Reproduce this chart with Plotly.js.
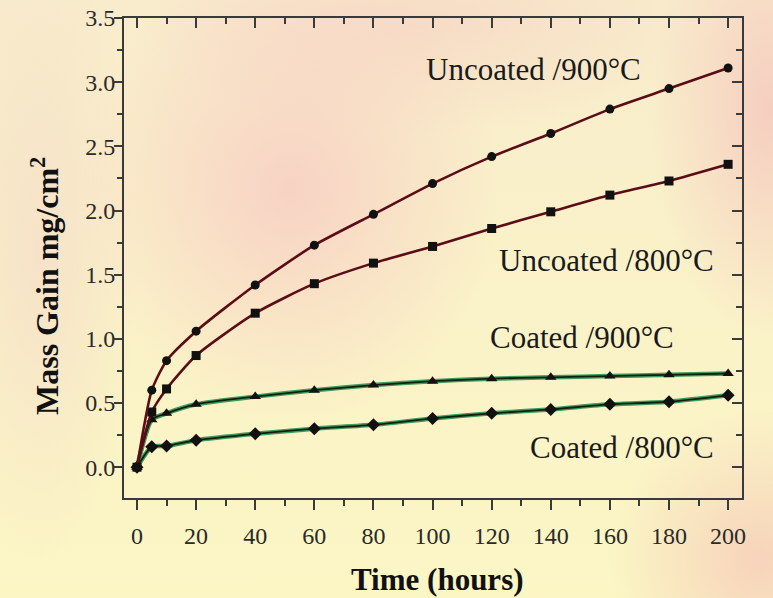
<!DOCTYPE html>
<html>
<head>
<meta charset="utf-8">
<script src="https://cdn.plot.ly/plotly-3.0.1.min.js"></script>
<style>
  html, body { margin: 0; padding: 0; }
  body {
    width: 773px; height: 598px; overflow: hidden;
    background:
      radial-gradient(ellipse 210px 230px at 290px 190px, rgba(247,203,195,0.8), rgba(247,203,195,0) 100%),
      radial-gradient(ellipse 120px 230px at 770px 110px, rgba(245,200,190,0.85), rgba(245,200,190,0) 100%),
      radial-gradient(ellipse 150px 150px at 760px 560px, rgba(246,205,185,0.85), rgba(246,205,185,0) 100%),
      radial-gradient(ellipse 280px 110px at 420px 25px, rgba(246,212,195,0.7), rgba(246,212,195,0) 100%),
      radial-gradient(ellipse 100px 320px at 40px 250px, rgba(245,222,200,0.8), rgba(245,222,200,0) 100%),
      linear-gradient(180deg, #f8eccc 0%, #faf2c8 50%, #fbf6c4 100%);
  }
  #chart { width: 773px; height: 598px; }
</style>
</head>
<body>
<div id="chart"></div>
<script>
// ---- data ----
var timeHours = [0, 5, 10, 20, 40, 60, 80, 100, 120, 140, 160, 180, 200];
var uncoated900 = [0.00, 0.60, 0.83, 1.06, 1.42, 1.73, 1.97, 2.21, 2.42, 2.60, 2.79, 2.95, 3.11];
var uncoated800 = [0.00, 0.43, 0.61, 0.87, 1.20, 1.43, 1.59, 1.72, 1.86, 1.99, 2.12, 2.23, 2.36];
var coated900   = [0.00, 0.37, 0.42, 0.49, 0.55, 0.60, 0.64, 0.67, 0.69, 0.70, 0.71, 0.72, 0.73];
var coated800   = [0.00, 0.16, 0.165, 0.21, 0.26, 0.30, 0.33, 0.38, 0.42, 0.45, 0.49, 0.51, 0.56];
var seriesLabels = ["Uncoated /900°C", "Uncoated /800°C", "Coated /900°C", "Coated /800°C"];
var xTickVals = [0, 20, 40, 60, 80, 100, 120, 140, 160, 180, 200];
var yTickVals = [0.0, 0.5, 1.0, 1.5, 2.0, 2.5, 3.0, 3.5];
var xTitle = 'Time (hours)';
var yTitle = 'Mass Gain mg/cm<sup>2</sup>';

var maroon = '#5a0d16';
var green = '#3f9a5c';
var serif = '"Liberation Serif", "Times New Roman", serif';

function redSeries(y, sym, name) {
  return {
    x: timeHours, y: y, name: name, type: 'scatter', mode: 'lines+markers',
    line: {color: maroon, width: 2.6, shape: 'spline', smoothing: 0.6},
    marker: {symbol: sym, size: 9, color: '#111'},
    showlegend: false, hoverinfo: 'x+y'
  };
}
function greenHalo(y) {
  return {
    x: timeHours, y: y, type: 'scatter', mode: 'lines',
    line: {color: green, width: 4.5, shape: 'spline', smoothing: 0.6},
    showlegend: false, hoverinfo: 'skip'
  };
}
function greenSeries(y, sym, name) {
  return {
    x: timeHours, y: y, name: name, type: 'scatter', mode: 'lines+markers',
    line: {color: '#102010', width: 1.8, shape: 'spline', smoothing: 0.6},
    marker: {symbol: sym, size: 10, color: '#111'},
    showlegend: false, hoverinfo: 'x+y'
  };
}

var traces = [
  greenHalo(coated900), greenHalo(coated800),
  greenSeries(coated900, 'triangle-up', seriesLabels[2]),
  greenSeries(coated800, 'diamond', seriesLabels[3]),
  redSeries(uncoated800, 'square', seriesLabels[1]),
  redSeries(uncoated900, 'circle', seriesLabels[0]),
  {x: [], y: [], xaxis: 'x2', yaxis: 'y2', type: 'scatter', showlegend: false, hoverinfo: 'skip'},
  {x: [], y: [], xaxis: 'x', yaxis: 'y3', type: 'scatter', showlegend: false, hoverinfo: 'skip'}
];

var xr = [-4.4, 204.7];
var yr = [-0.24, 3.5];
var tickFont = {family: serif, size: 24, color: '#2a2a2a'};
var axCol = '#3a3a3a';

var layout = {
  width: 773, height: 598,
  margin: {l: 124, r: 31, t: 18, b: 100},
  paper_bgcolor: 'rgba(0,0,0,0)',
  plot_bgcolor: 'rgba(0,0,0,0)',
  xaxis: {
    range: xr, tickvals: xTickVals, ticktext: xTickVals.map(String),
    ticks: 'outside', ticklen: 10, tickwidth: 2, tickcolor: axCol,
    showline: true, linecolor: axCol, linewidth: 2, zeroline: false, showgrid: false,
    tickfont: tickFont, ticklabelstandoff: 5,
    minor: {dtick: 10, tick0: 0, ticks: 'outside', ticklen: 6, tickwidth: 2, tickcolor: axCol}
  },
  yaxis: {
    range: yr, tickvals: yTickVals, ticktext: yTickVals.map(function(v){return v.toFixed(1);}),
    ticks: '', showline: true, linecolor: axCol, linewidth: 2, zeroline: false, showgrid: false,
    tickfont: tickFont, ticklabelstandoff: 2
  },
  yaxis3: {
    overlaying: 'y', side: 'left', range: yr, tickvals: yTickVals, showticklabels: false,
    ticks: 'outside', ticklen: 9, tickwidth: 2, tickcolor: axCol,
    showline: false, zeroline: false, showgrid: false,
    minor: {dtick: 0.25, tick0: 0, ticks: 'outside', ticklen: 6, tickwidth: 2, tickcolor: axCol}
  },
  xaxis2: {
    overlaying: 'x', side: 'top', range: xr, tickvals: xTickVals, showticklabels: false,
    ticks: 'inside', ticklen: 10, tickwidth: 2, tickcolor: axCol,
    showline: true, linecolor: axCol, linewidth: 2, zeroline: false, showgrid: false,
    minor: {dtick: 10, tick0: 0, ticks: 'inside', ticklen: 6, tickwidth: 2, tickcolor: axCol}
  },
  yaxis2: {
    overlaying: 'y', side: 'right', range: yr, tickvals: yTickVals, showticklabels: false,
    ticks: 'inside', ticklen: 10, tickwidth: 2, tickcolor: axCol,
    showline: true, linecolor: axCol, linewidth: 2, zeroline: false, showgrid: false,
    minor: {dtick: 0.25, tick0: 0, ticks: 'inside', ticklen: 6, tickwidth: 2, tickcolor: axCol}
  },
  annotations: [
    {text: seriesLabels[0], x: 134, y: 3.10},
    {text: seriesLabels[1], x: 159, y: 1.61},
    {text: seriesLabels[2], x: 150.5, y: 1.01},
    {text: seriesLabels[3], x: 164, y: 0.155}
  ].map(function(a){
    a.xref = 'x'; a.yref = 'y'; a.showarrow = false; a.xanchor = 'center'; a.yanchor = 'middle';
    a.font = {family: serif, size: 31, color: '#1a1a1a'};
    return a;
  }).concat([
    {text: '<b>' + xTitle + '</b>', xref: 'paper', yref: 'paper', x: (437-124)/618, y: -(579-498)/480,
     xanchor: 'center', yanchor: 'middle', showarrow: false,
     font: {family: serif, size: 31, color: '#111'}},
    {text: '<b>' + yTitle + '</b>', xref: 'paper', yref: 'paper', x: -(124-45)/618, y: (498-286)/480,
     xanchor: 'center', yanchor: 'middle', showarrow: false, textangle: -90,
     font: {family: serif, size: 32, color: '#111'}}
  ])
};

Plotly.newPlot('chart', traces, layout, {displayModeBar: false, staticPlot: true});
</script>
</body>
</html>
